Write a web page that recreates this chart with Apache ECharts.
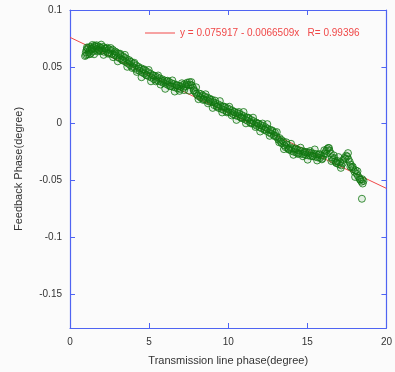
<!DOCTYPE html>
<html>
<head>
<meta charset="utf-8">
<script src="https://cdn.jsdelivr.net/npm/echarts@6/dist/echarts.min.js"></script>
<style>
  html, body { margin: 0; padding: 0; background: #fbfbfb; }
  #main { width: 395px; height: 372px; }
</style>
</head>
<body>
<div id="main"></div>
<script>
// measured points (transmission line phase, feedback phase), first pass
var measured = [
    [0.95,0.0595],[1.0,0.0628],[1.02,0.0602],[1.05,0.0650],[1.1,0.0610],[1.12,0.0662],[1.18,0.0630],[1.2,0.0672],[1.25,0.0645],[1.3,0.0615],
    [1.33,0.0675],[1.38,0.0652],[1.42,0.0692],[1.45,0.0635],[1.5,0.0668],[1.55,0.0685],[1.6,0.0648],[1.65,0.0678],[1.7,0.0658],[1.75,0.0635],
    [1.8,0.0680],[1.85,0.0652],[1.9,0.0670],[1.95,0.0638],[2.0,0.0665],[2.05,0.0645],[2.1,0.0675],[2.15,0.0632],[2.2,0.0662],[2.28,0.0640],
    [2.35,0.0668],[2.4,0.0625],[2.45,0.0655],[2.5,0.0620],[2.58,0.0645],[2.65,0.0612],[2.7,0.0650],[2.78,0.0605],[2.85,0.0635],[2.9,0.0598],
    [2.95,0.0625],[3.0,0.0585],[3.08,0.0615],[3.15,0.0575],[3.2,0.0602],[3.28,0.0562],[3.35,0.0592],[3.4,0.0552],[3.48,0.0578],[3.55,0.0540],
    [3.6,0.0568],[3.68,0.0528],[3.75,0.0558],[3.8,0.0515],[3.88,0.0542],[3.95,0.0502],[4.02,0.0528],[4.1,0.0490],[4.18,0.0512],[4.25,0.0472],
    [4.32,0.0500],[4.4,0.0465],[4.48,0.0488],[4.55,0.0450],[4.62,0.0475],[4.7,0.0440],[4.78,0.0465],[4.85,0.0428],[4.92,0.0452],[5.0,0.0415],
    [5.08,0.0440],[5.15,0.0405],[5.22,0.0428],[5.3,0.0392],[5.38,0.0418],[5.45,0.0385],[5.52,0.0408],[5.6,0.0375],[5.68,0.0398],[5.75,0.0368],
    [5.82,0.0390],[5.9,0.0358],[5.98,0.0380],[6.05,0.0350],[6.12,0.0372],[6.2,0.0340],[6.28,0.0365],[6.35,0.0332],[6.42,0.0355],[6.5,0.0325],
    [6.58,0.0348],[6.65,0.0318],[6.72,0.0340],[6.8,0.0310],[6.88,0.0332],[6.95,0.0305],[7.02,0.0325],[7.1,0.0338],[7.18,0.0315],[7.25,0.0348],
    [7.32,0.0328],[7.4,0.0360],[7.48,0.0338],[7.55,0.0365],[7.62,0.0342],[7.7,0.0335],[7.78,0.0315],[7.85,0.0295],[7.92,0.0278],[8.0,0.0260],
    [8.08,0.0245],[8.15,0.0265],[8.22,0.0235],[8.3,0.0225],[8.38,0.0248],[8.45,0.0215],[8.52,0.0238],[8.6,0.0208],[8.68,0.0228],[8.75,0.0196],
    [8.82,0.0220],[8.9,0.0190],[8.98,0.0210],[9.05,0.0188],[9.12,0.0162],[9.2,0.0180],[9.28,0.0148],[9.35,0.0170],[9.42,0.0136],[9.5,0.0160],
    [9.58,0.0128],[9.65,0.0152],[9.72,0.0120],[9.8,0.0142],[9.88,0.0110],[9.95,0.0135],[10.02,0.0102],[10.1,0.0125],[10.18,0.0095],[10.25,0.0115],
    [10.32,0.0082],[10.4,0.0102],[10.48,0.0072],[10.55,0.0095],[10.62,0.0065],[10.7,0.0085],[10.78,0.0055],[10.85,0.0075],[10.92,0.0045],[11.0,0.0065],
    [11.08,0.0035],[11.15,0.0055],[11.22,0.0025],[11.3,0.0045],[11.38,0.0012],[11.45,0.0032],[11.52,0.0002],[11.6,0.0022],[11.68,-0.0010],[11.75,0.0010],
    [11.82,-0.0020],[11.9,0.0000],[11.98,-0.0032],[12.05,-0.0012],[12.12,-0.0042],[12.2,-0.0022],[12.28,-0.0055],[12.35,-0.0032],[12.42,-0.0065],[12.5,-0.0045],
    [12.58,-0.0078],[12.65,-0.0055],[12.72,-0.0090],[12.8,-0.0068],[12.88,-0.0100],[12.95,-0.0080],[13.02,-0.0110],[13.1,-0.0125],[13.18,-0.0142],[13.25,-0.0128],
    [13.32,-0.0160],[13.4,-0.0175],[13.48,-0.0158],[13.55,-0.0192],[13.62,-0.0208],[13.7,-0.0185],[13.78,-0.0218],[13.85,-0.0230],[13.92,-0.0210],[14.0,-0.0240],
    [14.08,-0.0220],[14.15,-0.0248],[14.22,-0.0228],[14.3,-0.0255],[14.38,-0.0232],[14.45,-0.0262],[14.52,-0.0238],[14.6,-0.0265],[14.68,-0.0242],[14.75,-0.0270],
    [14.82,-0.0248],[14.9,-0.0275],[14.98,-0.0252],[15.05,-0.0280],[15.12,-0.0255],[15.2,-0.0285],[15.28,-0.0260],[15.35,-0.0288],[15.42,-0.0265],[15.5,-0.0292],
    [15.58,-0.0270],[15.65,-0.0298],[15.72,-0.0275],[15.8,-0.0302],[15.88,-0.0280],[15.95,-0.0308],[16.02,-0.0285],[16.1,-0.0262],[16.18,-0.0242],[16.25,-0.0225],
    [16.32,-0.0215],[16.4,-0.0238],[16.48,-0.0262],[16.55,-0.0298],[16.62,-0.0320],[16.7,-0.0305],[16.78,-0.0332],[16.85,-0.0348],[16.92,-0.0330],[17.0,-0.0358],
    [17.08,-0.0340],[17.15,-0.0368],[17.25,-0.0348],[17.35,-0.0302],[17.45,-0.0282],[17.52,-0.0290],[17.6,-0.0315],[17.68,-0.0338],[17.75,-0.0362],[17.82,-0.0385],
    [17.9,-0.0402],[17.98,-0.0425],[18.05,-0.0412],[18.12,-0.0442],[18.2,-0.0462],[18.28,-0.0478],[18.35,-0.0495],[18.42,-0.0512],[18.5,-0.0528],[18.55,-0.0505],
    [18.45,-0.0662]
];

// second pass of the same sweep, more scattered
var measured2 = [
    [1.07,0.0670],[1.22,0.0610],[1.37,0.0660],[1.52,0.0610],[1.67,0.0690],[1.82,0.0645],[1.97,0.0695],[2.12,0.0605],[2.27,0.0660],[2.42,0.0615],
    [2.57,0.0665],[2.72,0.0585],[2.87,0.0615],[3.02,0.0548],[3.17,0.0615],[3.32,0.0560],[3.47,0.0605],[3.62,0.0500],[3.77,0.0545],[3.92,0.0490],
    [4.07,0.0535],[4.22,0.0455],[4.37,0.0485],[4.52,0.0408],[4.67,0.0478],[4.82,0.0426],[4.97,0.0472],[5.12,0.0372],[5.27,0.0422],[5.42,0.0372],
    [5.57,0.0423],[5.72,0.0344],[5.87,0.0375],[6.02,0.0306],[6.17,0.0377],[6.32,0.0328],[6.47,0.0380],[6.62,0.0282],[6.77,0.0335],[6.92,0.0288],
    [7.07,0.0355],[7.22,0.0295],[7.37,0.0345],[7.52,0.0290],[7.67,0.0365],[7.82,0.0290],[7.97,0.0320],[8.12,0.0215],[8.27,0.0260],[8.42,0.0208],
    [8.57,0.0258],[8.72,0.0178],[8.87,0.0208],[9.02,0.0138],[9.17,0.0202],[9.32,0.0150],[9.47,0.0198],[9.62,0.0098],[9.77,0.0148],[9.92,0.0098],
    [10.07,0.0148],[10.22,0.0072],[10.37,0.0102],[10.52,0.0032],[10.67,0.0102],[10.82,0.0052],[10.97,0.0102],[11.12,0.0002],[11.27,0.0052],[11.42,0.0002],
    [11.57,0.0052],[11.72,-0.0030],[11.87,0.0000],[12.02,-0.0070],[12.17,0.0000],[12.32,-0.0052],[12.47,-0.0005],[12.62,-0.0108],[12.77,-0.0060],[12.92,-0.0110],
    [13.07,-0.0075],[13.22,-0.0165],[13.37,-0.0145],[13.52,-0.0225],[13.67,-0.0165],[13.82,-0.0225],[13.97,-0.0178],[14.12,-0.0275],[14.27,-0.0220],[14.42,-0.0268],
    [14.57,-0.0212],[14.72,-0.0288],[14.87,-0.0252],[15.02,-0.0318],[15.17,-0.0242],[15.32,-0.0285],[15.47,-0.0228],[15.62,-0.0325],[15.77,-0.0268],[15.92,-0.0315],
    [16.07,-0.0235],[16.22,-0.0265],[16.37,-0.0215],[16.52,-0.0330],[16.67,-0.0280],[16.82,-0.0345],[16.97,-0.0295],[17.12,-0.0390],[17.27,-0.0320],[17.42,-0.0310],
    [17.57,-0.0260],[17.72,-0.0380],[17.87,-0.0380],[18.02,-0.0470],[18.17,-0.0420],[18.32,-0.0490],[18.47,-0.0490]
];

// linear fit end points, from the formula in the legend
var fitLine = [[0, 0.075917], [20, -0.057101]];
var fitName = 'y = 0.075917 - 0.0066509x   R= 0.99396';

var xTicks = [0, 5, 10, 15, 20];
var yTicks = [-0.15, -0.1, -0.05, 0, 0.05, 0.1];

var axisBlue = '#4f64f2';
var font = 'Liberation Sans';

var chartDom = document.getElementById('main');
var myChart = echarts.init(chartDom);

function xAx(pos, labels) {
    return {
        type: 'value', position: pos, min: 0, max: 20,
        axisLine: { show: true, onZero: false, lineStyle: { color: axisBlue, width: 1.2 } },
        axisTick: { show: true, inside: true, length: 5, customValues: xTicks, lineStyle: { color: axisBlue } },
        axisLabel: { show: labels, customValues: xTicks, color: '#333', fontSize: 10, fontFamily: font, margin: 9 },
        splitLine: { show: false }
    };
}
function yAx(pos, labels) {
    return {
        type: 'value', position: pos, min: -0.18, max: 0.1,
        axisLine: { show: true, onZero: false, lineStyle: { color: axisBlue, width: 1.2 } },
        axisTick: { show: true, inside: true, length: 5, customValues: yTicks, lineStyle: { color: axisBlue } },
        axisLabel: { show: labels, customValues: yTicks, color: '#333', fontSize: 10, fontFamily: font, margin: 8,
            formatter: function (v) { return String(Math.round(v * 100) / 100); } },
        splitLine: { show: false }
    };
}

var xBottom = xAx('bottom', true);
xBottom.name = 'Transmission line phase(degree)';
xBottom.nameLocation = 'middle';
xBottom.nameGap = 27;
xBottom.nameTextStyle = { color: '#333', fontSize: 11, fontFamily: font };

var yLeft = yAx('left', true);
yLeft.name = 'Feedback Phase(degree)';
yLeft.nameLocation = 'middle';
yLeft.nameGap = 46;
yLeft.nameTextStyle = { color: '#333', fontSize: 11, fontFamily: font };

var circleStyle = { color: 'rgba(40,140,40,0.14)', borderColor: '#0f760f', borderWidth: 1 };

var option = {
    backgroundColor: '#fbfbfb',
    animation: false,
    grid: { left: 70, right: 7, top: 10, bottom: 44 },
    legend: {
        left: 140, top: 23,
        data: [{ name: fitName, icon: 'rect' }],
        itemWidth: 30, itemHeight: 1, itemGap: 5,
        textStyle: { color: '#f04848', fontSize: 10, fontFamily: font }
    },
    xAxis: [xBottom, xAx('top', false)],
    yAxis: [yLeft, yAx('right', false)],
    series: [
        {
            name: fitName,
            type: 'line',
            data: fitLine,
            symbol: 'none',
            lineStyle: { color: '#f04848', width: 1 },
            itemStyle: { color: '#f04848' },
            z: 1
        },
        {
            name: 'measured',
            type: 'scatter',
            data: measured,
            symbol: 'circle',
            symbolSize: 7,
            itemStyle: circleStyle,
            z: 2
        },
        {
            name: 'measured2',
            type: 'scatter',
            data: measured2,
            symbol: 'circle',
            symbolSize: 7,
            itemStyle: circleStyle,
            z: 2
        }
    ]
};
myChart.setOption(option);
</script>
</body>
</html>
